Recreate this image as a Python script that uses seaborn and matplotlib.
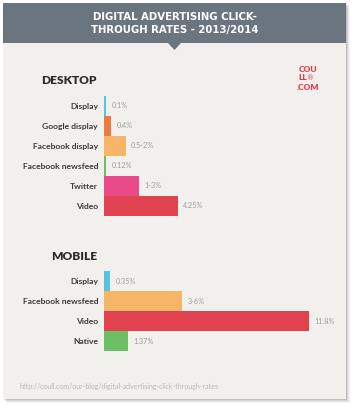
import matplotlib
matplotlib.use("Agg")
import matplotlib.pyplot as plt
import seaborn as sns
import pandas as pd
from matplotlib.patches import Rectangle, Polygon

# ---- data ----
desktop_cats = ["Display", "Google display", "Facebook display", "Facebook newsfeed", "Twitter", "Video"]
desktop_vals = [0.1, 0.4, 1.25, 0.12, 2.0, 4.25]
desktop_labels = ["0.1%", "0.4%", "0.5-2%", "0.12%", "1-3%", "4.25%"]
desktop_colors = ["#57c3e3", "#ee7b3e", "#f6b567", "#6cbf63", "#e84b88", "#e0434f"]

mobile_cats = ["Display", "Facebook newsfeed", "Video", "Native"]
mobile_vals = [0.35, 4.5, 11.8, 1.37]
mobile_labels = ["0.35%", "3-6%", "11.8%", "1.37%"]
mobile_colors = ["#57c3e3", "#f6b567", "#e0434f", "#6cbf63"]

title_lines = ["DIGITAL ADVERTISING CLICK-", "THROUGH RATES - 2013/2014"]
footer = "http://coull.com/our-blog/digital-advertising-click-through-rates"

sns.set_theme(style="white")
plt.rcParams["font.family"] = ["Lato", "DejaVu Sans"]

W, H = 356, 408
fig = plt.figure(figsize=(W / 100, H / 100), dpi=100)
fig.patch.set_facecolor("white")

# background / decoration axes in pixel coords
bg = fig.add_axes([0, 0, 1, 1])
bg.set_xlim(0, W)
bg.set_ylim(H, 0)
bg.axis("off")
# shadow
for i, a in enumerate([0.10, 0.08, 0.06, 0.04]):
    bg.add_patch(Rectangle((3 + i + 1, 3 + i + 1), 343, 396, facecolor="#000000", alpha=a, lw=0, zorder=0))
bg.add_patch(Rectangle((3, 3), 343, 396, facecolor="#f1f0ed", lw=0, zorder=1))
bg.add_patch(Rectangle((3, 3), 343, 40, facecolor="#6b7580", lw=0, zorder=2))
bg.add_patch(Polygon([(167.5, 42.5), (181.5, 42.5), (174.5, 50)], closed=True, facecolor="#6b7580", lw=0, zorder=2))
for yy, line in zip([16.5, 29.5], title_lines):
    bg.text(174.5, yy, line, color="white", fontsize=7.3, fontweight="bold", ha="center", va="center",
            zorder=3, family="DejaVu Sans")

bg.text(97, 80, "DESKTOP", color="#2b2b2b", fontsize=8.6, fontweight="heavy", ha="right", va="center", zorder=3)
bg.text(97, 257, "MOBILE", color="#2b2b2b", fontsize=8.6, fontweight="heavy", ha="right", va="center", zorder=3)

logo_red = "#e63a4d"
bg.text(298.5, 69.5, "COU", color=logo_red, fontsize=6.0, fontweight="heavy", ha="left", va="center", zorder=3)
bg.text(298.5, 78, "LL", color=logo_red, fontsize=6.0, fontweight="heavy", ha="left", va="center", zorder=3)
bg.text(306.5, 78, "\u00ae", color=logo_red, fontsize=5.0, ha="left", va="center", zorder=3, family="DejaVu Sans")
bg.text(296.5, 87, ".COM", color=logo_red, fontsize=6.0, fontweight="heavy", ha="left", va="center", zorder=3)

bg.text(20, 386, footer, color="#b9b8b5", fontsize=5.0, ha="left", va="center", zorder=3)


def bar_axes(top, n, cats, vals, labels, colors):
    left_px, width_px = 104, 208
    h_px = 20 * n
    ax = fig.add_axes([left_px / W, (H - top - h_px) / H, width_px / W, h_px / H])
    ax.set_facecolor("none")
    ax.set_zorder(5)
    df = pd.DataFrame({"cat": cats, "val": vals})
    sns.barplot(data=df, x="val", y="cat", hue="cat", palette=colors, orient="h",
                width=1.0, legend=False, ax=ax, linewidth=0, saturation=1)
    ax.set_xlim(0, 12)
    ax.set_ylim(n - 0.5, -0.5)
    for c, lab in zip(ax.containers, labels):
        ax.bar_label(c, labels=[lab], padding=4.0, fontsize=5.2, color="#9d9c99")
    ax.set_xlabel("")
    ax.set_ylabel("")
    ax.set_xticks([])
    ax.tick_params(axis="y", length=0, pad=4.3, labelsize=6.1, labelcolor="#3a3a3a")
    for t in ax.get_yticklabels():
        t.set_fontweight("bold")
    for s in ax.spines.values():
        s.set_visible(False)
    return ax


bar_axes(96, 6, desktop_cats, desktop_vals, desktop_labels, desktop_colors)
bar_axes(271, 4, mobile_cats, mobile_vals, mobile_labels, mobile_colors)

fig.savefig("out.png", dpi=100, facecolor=fig.get_facecolor())
